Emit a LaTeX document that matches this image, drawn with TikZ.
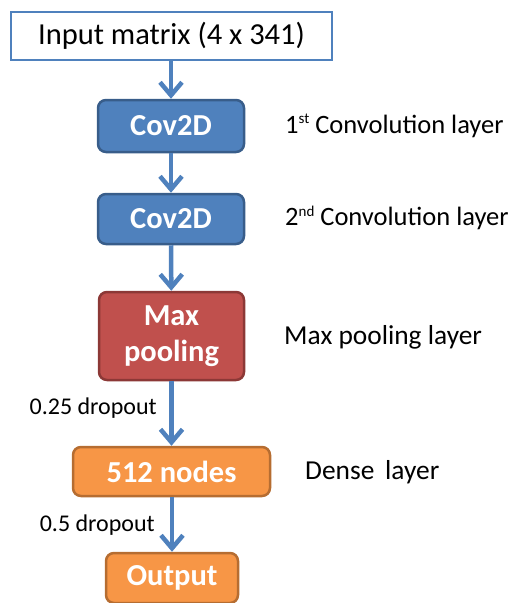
\documentclass[tikz,border=0pt]{standalone}
\usepackage{fontspec}
\setmainfont{Carlito}
\usetikzlibrary{arrows.meta}
\definecolor{bfill}{HTML}{4F81BD}
\definecolor{bdraw}{HTML}{385D8A}
\definecolor{rfill}{HTML}{C0504D}
\definecolor{rdraw}{HTML}{8C3836}
\definecolor{ofill}{HTML}{F79646}
\definecolor{odraw}{HTML}{B66D31}
\newcommand{\supx}[1]{\raisebox{0.75ex}{\fontsize{15}{15}\selectfont #1}}
\tikzset{
  box/.style={rounded corners=8pt, line width=2.5pt, font=\fontsize{30.5}{36}\selectfont\bfseries, text=white, align=center, inner sep=0pt},
  bluebox/.style={box, fill=bfill, draw=bdraw},
  redbox/.style={box, fill=rfill, draw=rdraw},
  orangebox/.style={box, fill=ofill, draw=odraw},
  conn/.style={draw=bfill, line width=4.5pt, -{Straight Barb[length=13pt,width=22pt,line width=4.5pt]}},
  side/.style={font=\fontsize{27.4}{30}\selectfont, anchor=west, inner sep=0pt},
  drop/.style={font=\fontsize{24}{28}\selectfont, anchor=east, inner sep=0pt}
}
\begin{document}
\begin{tikzpicture}[x=1pt,y=-1pt]
\useasboundingbox (0,0) rectangle (518,603);
\node[draw=bfill, line width=2.5pt, fill=white, minimum width=321pt, minimum height=48pt, inner sep=0pt, font=\fontsize{30.5}{34}\selectfont] (in) at (171.5,36) {Input matrix (4 x 341)};
\node[bluebox, minimum width=146pt, minimum height=52pt] (c1) at (171,126) {Cov2D};
\node[bluebox, minimum width=146pt, minimum height=50pt] (c2) at (171,219) {Cov2D};
\node[redbox, minimum width=145pt, minimum height=88pt] (mp) at (171.5,336) {Max\\pooling};
\node[orangebox, minimum width=197pt, minimum height=49pt] (dn) at (171.5,471.5) {512 nodes};
\node[orangebox, minimum width=132pt, minimum height=50pt] (out) at (172,578) {Output};
\draw[conn] (in.south -| c1) -- (c1.north);
\draw[conn] (c1) -- (c2);
\draw[conn] (c2) -- (mp);
\draw[conn] (mp.south -| dn) -- (dn.north);
\draw[conn] (dn.south -| out) -- (out.north);
\node[side, font=\fontsize{26.5}{30}\selectfont] (l1) at (285,126) {1\supx{st} Convolution layer};
\node[side, font=\fontsize{26.5}{30}\selectfont] (l2) at (285,218) {2\supx{nd} Convolution layer};
\node[side] (l3) at (284,337) {Max pooling layer};
\node[side] (l4) at (305,472) {Dense\, layer};
\node[drop] (d1) at (157,408) {0.25 dropout};
\node[drop] (d2) at (155,525) {0.5 dropout};
\end{tikzpicture}
\end{document}
